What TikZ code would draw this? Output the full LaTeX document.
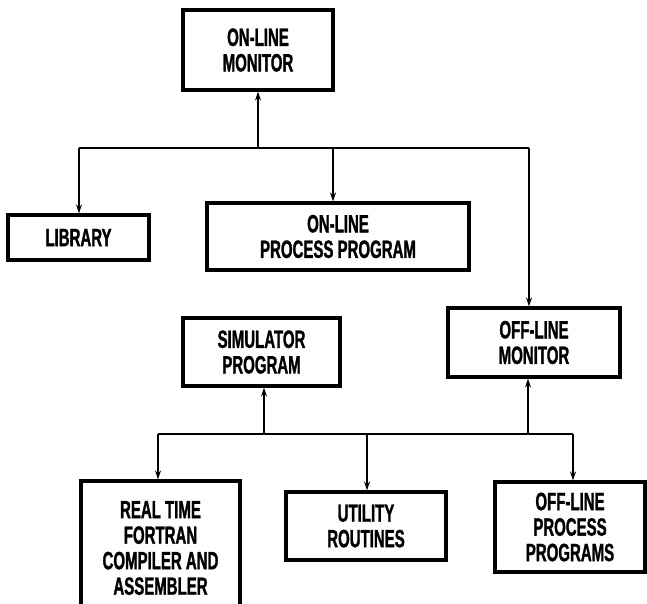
\documentclass[tikz,border=0pt]{standalone}
\usepackage{fontspec}
\setmainfont{Liberation Sans}[FakeStretch=0.6,BoldFeatures={FakeBold=1.2}]
\usetikzlibrary{arrows.meta}
\begin{document}
\begin{tikzpicture}[x=1pt,y=-1pt,
  box/.style={draw,line width=3.2pt,inner sep=0pt,align=center,
    font=\fontsize{25}{25.5}\selectfont\bfseries},
  conn/.style={line width=1.8pt},
  arr/.style={conn,-{Stealth[length=9pt,width=6pt]}}]
\clip (0,0) rectangle (647,603);
\fill[white] (0,0) rectangle (647,603);
% boxes
\node[box,minimum width=150pt,minimum height=80pt] (onmon) at (258,50) {ON-LINE\\MONITOR};
\node[box,minimum width=141pt,minimum height=45pt] (lib) at (78.5,237.5) {LIBRARY};
\node[box,minimum width=262pt,minimum height=67pt] (onproc) at (338,236.5) {ON-LINE\\PROCESS PROGRAM};
\node[box,minimum width=172pt,minimum height=69pt] (offmon) at (534,342.5) {OFF-LINE\\MONITOR};
\node[box,minimum width=157pt,minimum height=68pt] (sim) at (261.5,352) {SIMULATOR\\PROGRAM};
\node[box,minimum width=159pt,minimum height=134pt] (rt) at (160.5,548)
  {REAL TIME\\FORTRAN\\COMPILER AND\\ASSEMBLER};
\node[box,minimum width=160pt,minimum height=68pt] (util) at (366,526) {UTILITY\\ROUTINES};
\node[box,minimum width=150pt,minimum height=90pt] (offproc) at (570,527) {OFF-LINE\\PROCESS\\PROGRAMS};
% upper bus
\coordinate (ua) at (79,148);
\coordinate (ub) at (258,148);
\coordinate (uc) at (333,148);
\coordinate (ud) at (529,148);
\draw[conn] (ua) -- (ud);
\draw[arr] (ub) -- (ub |- onmon.south);
\draw[arr] (ua) -- (ua |- lib.north);
\draw[arr] (uc) -- (uc |- onproc.north);
\draw[arr] (ud) -- (ud |- offmon.north);
% lower bus
\coordinate (la) at (158,434);
\coordinate (lb) at (264,434);
\coordinate (lc) at (367,434);
\coordinate (ld) at (528,434);
\coordinate (le) at (573,434);
\draw[conn] (la) -- (le);
\draw[arr] (lb) -- (lb |- sim.south);
\draw[arr] (ld) -- (ld |- offmon.south);
\draw[arr] (la) -- (la |- rt.north);
\draw[arr] (lc) -- (lc |- util.north);
\draw[arr] (le) -- (le |- offproc.north);
\end{tikzpicture}
\end{document}
